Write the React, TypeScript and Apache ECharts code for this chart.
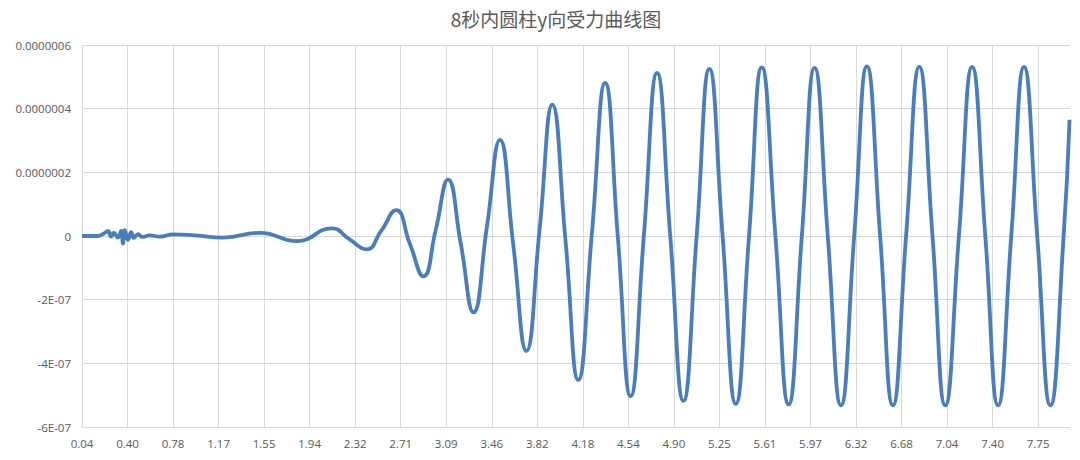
import React, { useEffect, useRef } from "react";
import * as echarts from "echarts";

// x tick labels (time, s) shown at each category gridline
const timeLabels = [
  "0.04", "0.40", "0.78", "1.17", "1.55", "1.94", "2.32", "2.71", "3.09", "3.46", "3.82",
  "4.18", "4.54", "4.90", "5.25", "5.61", "5.97", "6.32", "6.68", "7.04", "7.40", "7.75",
];

// y tick labels as Excel printed them
const yLabels = ["-6E-07", "-4E-07", "-2E-07", "0", "0.0000002", "0.0000004", "0.0000006"];

// position along the category axis (in label intervals) and force (×1e-7)
const pos = [
  0, 0.35, 0.48, 0.57, 0.64, 0.7, 0.79, 0.86, 0.9, 0.94, 1.01, 1.08, 1.14, 1.23, 1.32, 1.49,
  1.71, 2.0, 2.48, 3.1, 3.91, 4.72, 5.49, 5.87, 6.25, 6.57, 6.9, 7.2, 7.5, 7.77, 8.04, 8.32,
  8.6, 8.89, 9.18, 9.47, 9.76, 10.05, 10.33, 10.62, 10.9, 11.2, 11.49, 11.77, 12.05, 12.34,
  12.63, 12.92, 13.21, 13.5, 13.78, 14.07, 14.36, 14.65, 14.93, 15.23, 15.52, 15.81, 16.09,
  16.38, 16.67, 16.96, 17.24, 17.53, 17.81, 18.1, 18.39, 18.68, 18.96, 19.26, 19.55, 19.84,
  20.12, 20.41, 20.69, 20.98, 21.27, 21.56, 21.69,
];
const forceE7 = [
  0, 0, 0.08, 0.15, -0.02, 0.1, -0.05, 0.16, -0.24, 0.18, -0.12, 0.12, -0.06, 0.06, -0.03, 0.02,
  -0.02, 0.05, 0.02, -0.05, 0.1, -0.16, 0.24, -0.1, -0.42, 0.16, 0.81, -0.24, -1.27, 0.2, 1.77, -0.25,
  -2.4, 0.25, 3.02, -0.25, -3.61, 0.2, 4.13, -0.15, -4.52, 0.1, 4.81, -0.05, -5.03, 0,
  5.12, 0, -5.18, 0, 5.25, 0, -5.27, 0, 5.3, 0, -5.29, 0, 5.28,
  0, -5.32, 0, 5.33, 0, -5.32, 0, 5.31, 0, -5.32, 0, 5.31, 0,
  -5.32, 0, 5.31, 0, -5.32, 0, 3.65,
];

export default function App() {
  const ref = useRef<HTMLDivElement>(null);
  useEffect(() => {
    document.body.style.margin = "0";
    if (!ref.current) return;
    const chart = echarts.init(ref.current, null, { renderer: "svg" });
    const data = pos.map((p, i) => [p, forceE7[i] * 1e-7]);
    const font = "'Open Sans', 'Noto Sans', sans-serif";
    chart.setOption({
      animation: false,
      backgroundColor: "#ffffff",
      title: {
        text: "8秒内圆柱y向受力曲线图",
        left: 551,
        top: 4,
        textAlign: "center",
        textStyle: {
          fontFamily: "'Noto Sans CJK SC', sans-serif",
          fontSize: 19,
          fontWeight: "normal",
          color: "#595959",
        },
      },
      grid: { left: 82, right: 10, top: 45, bottom: 33, containLabel: false },
      xAxis: {
        type: "value",
        min: 0,
        max: 21.7,
        interval: 1,
        axisLine: { show: false },
        axisTick: { show: false },
        splitLine: { show: true, showMaxLine: false, lineStyle: { color: "#d9d9d9", width: 1 } },
        axisLabel: {
          showMaxLabel: false,
          margin: 10,
          color: "#595959",
          fontFamily: font,
          fontSize: 11.5,
          formatter: (v: number) => {
            const i = Math.round(v);
            return Math.abs(v - i) < 1e-6 && timeLabels[i] ? timeLabels[i] : "";
          },
        },
      },
      yAxis: {
        type: "value",
        min: -6e-7,
        max: 6e-7,
        interval: 2e-7,
        axisLine: { show: false },
        axisTick: { show: false },
        splitLine: { show: true, lineStyle: { color: "#d9d9d9", width: 1 } },
        axisLabel: {
          margin: 11,
          color: "#595959",
          fontFamily: font,
          fontSize: 11.5,
          formatter: (v: number) => {
            const i = Math.round(v / 2e-7) + 3;
            return yLabels[i] ?? "";
          },
        },
      },
      series: [
        {
          type: "line",
          data,
          smooth: 0.5,
          showSymbol: false,
          lineStyle: { color: "#4a7ebb", width: 3.8 },
          z: 3,
        },
      ],
    });
    return () => chart.dispose();
  }, []);
  return <div ref={ref} style={{ width: 1080, height: 460 }} />;
}
